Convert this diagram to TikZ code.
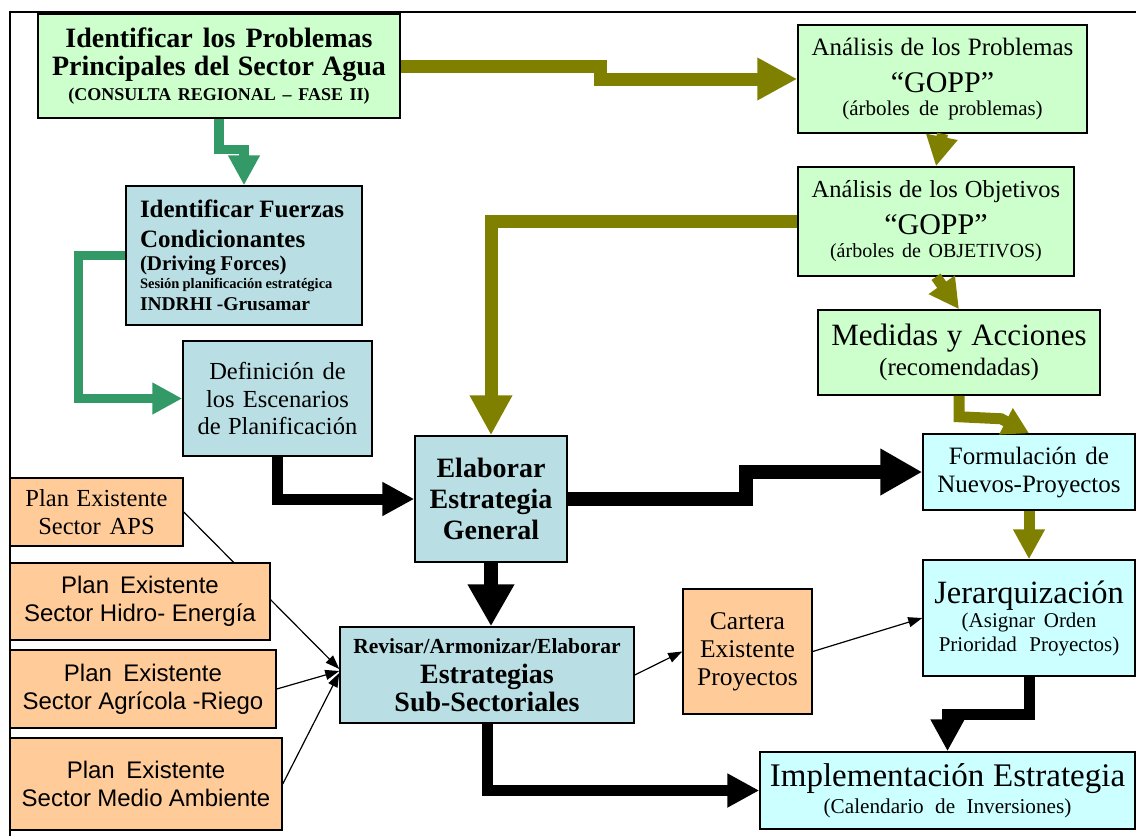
\documentclass[tikz,border=0pt]{standalone}
\usepackage{fontspec}
\setmainfont{Liberation Serif}
\setsansfont{Liberation Sans}
\usepackage{tikz}
\usetikzlibrary{arrows.meta,backgrounds}
\definecolor{VerdeClaro}{HTML}{CCFFCC}
\definecolor{AzulGris}{HTML}{B9DFE4}
\definecolor{CianClaro}{HTML}{CCFFFF}
\definecolor{Durazno}{HTML}{FFCC99}
\definecolor{Oliva}{HTML}{808000}
\definecolor{VerdeMar}{HTML}{339966}
% tamano de letra, interlineado y espacio entre palabras
\newcommand{\fsz}[2]{\fontsize{#1}{#2}\selectfont\spaceskip=.22em plus .1em minus .02em\relax}
\newcommand{\fszs}[2]{\fontsize{#1}{#2}\selectfont\spaceskip=.2em plus .1em minus .02em\relax}

\begin{document}
\begin{tikzpicture}[x=1pt,y=-1pt,
  caja/.style={draw,line width=1.5pt,inner sep=0pt,align=center},
  verde/.style={caja,fill=VerdeClaro},
  azul/.style={caja,fill=AzulGris},
  cian/.style={caja,fill=CianClaro},
  durazno/.style={caja,fill=Durazno},
  oliva/.style={draw=Oliva,line width=13pt,-{Triangle[length=40pt,width=40pt]}},
  olivachica/.style={draw=Oliva,line width=11pt,-{Triangle[length=30pt,width=30pt]}},
  verdemar/.style={draw=VerdeMar,line width=9.5pt,-{Triangle[length=30pt,width=30pt]}},
  negra/.style={draw=black,line width=11pt,-{Triangle[length=32pt,width=32pt]}},
  negragrande/.style={draw=black,line width=14pt,-{Triangle[length=42pt,width=44pt]}},
  fina/.style={draw=black,line width=1.2pt,-{Triangle[length=14pt,width=10pt]}}]
\useasboundingbox (0,0) rectangle (1136,836);
\draw[line width=1.8pt] (10,836) -- (10,12) -- (1136,12);

% columna izquierda
\node[verde,minimum width=362,minimum height=104,text width=362] (prob) at (219,66)
  {\bfseries\fsz{28}{28}Identificar los Problemas\par Principales del Sector Agua\par
   \fsz{18}{25}(CONSULTA REGIONAL -- FASE II)\par};
\node[azul,minimum width=236,minimum height=139,text width=208,align=left] (fuerzas) at (244,255.5)
  {\bfseries\fsz{25}{30}Identificar Fuerzas\par Condicionantes\par
   \fsz{21}{23}(Driving Forces)\par \fsz{14.5}{18}Sesión planificación estratégica\par
   \fsz{19.5}{22}INDRHI -Grusamar\par};
\node[azul,minimum width=189,minimum height=115,text width=189] (escen) at (277.5,398.5)
  {\fsz{24.5}{27.5}Definición de\par los Escenarios\par de Planificación\par};
\node[durazno,minimum width=173,minimum height=68,text width=173] (planA) at (96.5,512)
  {\fsz{24.5}{28}Plan Existente\par Sector APS\par};
\node[durazno,minimum width=260,minimum height=77,text width=260] (planH) at (140,601.5)
  {\sffamily\fszs{24}{28}Plan Existente\par Sector Hidro- Energía\par};
\node[durazno,minimum width=266,minimum height=78,text width=266] (planR) at (143,689)
  {\sffamily\fszs{24}{28}Plan Existente\par Sector Agrícola -Riego\par};
\node[durazno,minimum width=272,minimum height=92,text width=272] (planM) at (146,784)
  {\sffamily\fszs{24}{28}Plan Existente\par Sector Medio Ambiente\par};

% centro
\node[azul,minimum width=152,minimum height=126,text width=152] (elab) at (491,499)
  {\bfseries\fsz{28}{31}Elaborar\par Estrategia\par General\par};
\node[azul,minimum width=294,minimum height=96,text width=294] (rev) at (487,675)
  {\bfseries\fsz{21.5}{24}Revisar/Armonizar/Elaborar\par
   \fsz{28}{30}Estrategias\par \fsz{28}{28}Sub-Sectoriales\par};
\node[durazno,minimum width=129,minimum height=125,text width=129] (cart) at (747.5,651.5)
  {\fsz{25.5}{28}Cartera\par Existente\par Proyectos\par};

% columna derecha
\node[verde,minimum width=289,minimum height=108,text width=289] (anprob) at (942.5,79)
  {\fsz{25}{28}Análisis de los Problemas\par \fsz{30}{37}“GOPP”\par
   \fsz{21}{23}(árboles de problemas)\par};
\node[verde,minimum width=276,minimum height=109,text width=276] (anobj) at (936,221.5)
  {\fsz{24.5}{28}Análisis de los Objetivos\par \fsz{30}{37}“GOPP”\par
   \fsz{20}{23}(árboles de OBJETIVOS)\par};
\node[verde,minimum width=282,minimum height=85,text width=282] (medidas) at (959,352.5)
  {\fsz{31}{34}Medidas y Acciones\par \fsz{25}{30}(recomendadas)\par};
\node[cian,minimum width=212,minimum height=76,text width=212] (form) at (1029,472)
  {\fsz{25}{28}Formulación de\par Nuevos-Proyectos\par};
\node[cian,minimum width=212,minimum height=116,text width=212] (jer) at (1029,618)
  {\fsz{32.5}{36}Jerarquización\par \fsz{21}{24}(Asignar Orden\par Prioridad~ Proyectos)\par};
\node[cian,minimum width=375,minimum height=77,text width=375] (impl) at (947.5,790.5)
  {\fsz{33}{36}Implementación Estrategia\par \fsz{21.2}{27}(Calendario de Inversiones)\par};

% flechas
\draw[oliva] (prob.east) -- ++(200,0) |- (anprob.west);
\draw[olivachica] (anprob.south) -- (anobj.north);
\draw[oliva] (anobj.west) -| (elab.north);
\draw[olivachica] (anobj.south) -- (medidas.north);
\draw[olivachica,-{Triangle[length=26pt,width=28pt]}] (medidas.south) -- ++(0,21) -- ++(42,2) -- (form.north);
\draw[olivachica] (form.south) -- (jer.north);

\draw[verdemar] (prob.south) |- ([yshift=36pt]fuerzas.north) -- (fuerzas.north);
\draw[verdemar] (fuerzas.west) -- ++(-47,0) |- (escen.west);

\draw[negra] (escen.south) |- (elab.west);
\draw[negragrande] (elab.east) -- ++(178,0) |- (form.west);
\draw[negragrande] (elab.south) -- (elab.south |- rev.north);
\draw[negra] (rev.south) |- (impl.west);
\draw[negra] (jer.south) -- ++(0,38) -| (impl.north);

\begin{scope}[on background layer]
  \draw[fina] (planA.east) -- ([yshift=6pt]rev.west);
\end{scope}
\draw[fina] (planR.east) -- ([yshift=4pt]rev.west);
\draw[fina] (planM.east) -- ([yshift=2pt]rev.west);
\draw[fina] (rev.east) -- (cart.west);
\draw[fina] (cart.east) -- (jer.west);
\end{tikzpicture}
\end{document}
